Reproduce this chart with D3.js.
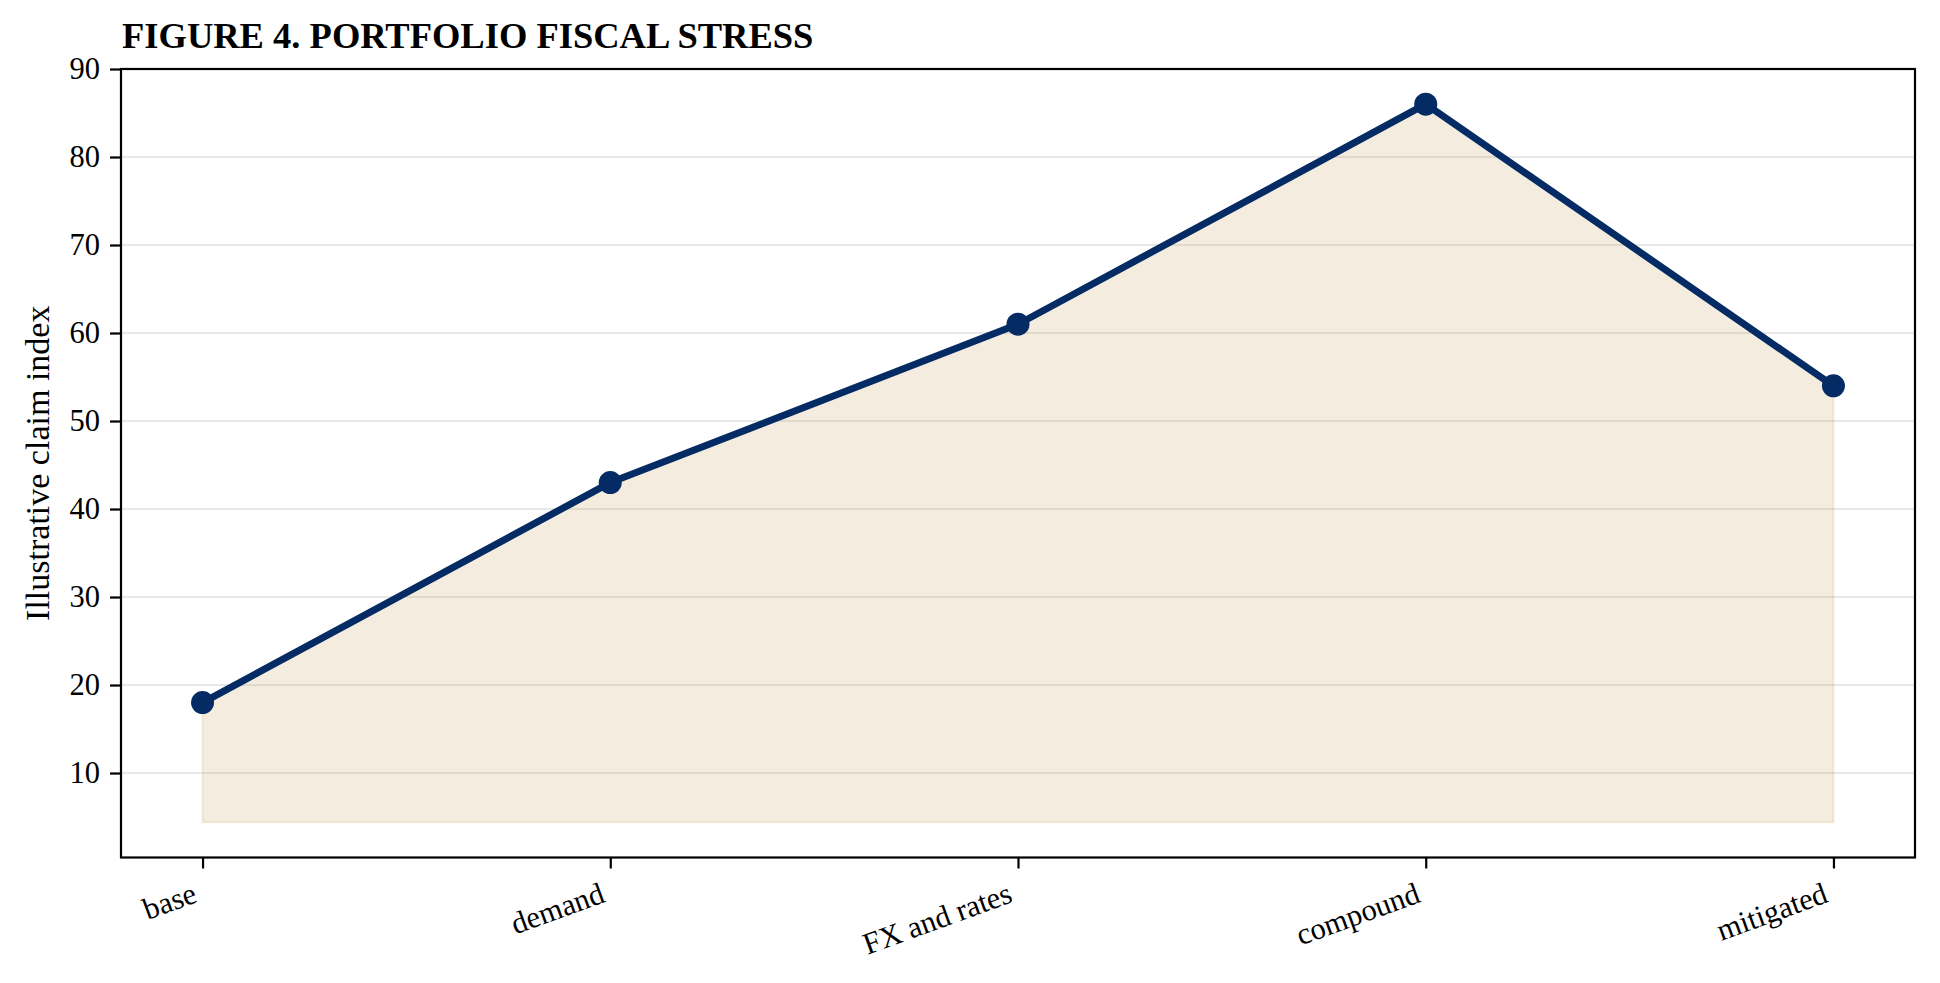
<!DOCTYPE html>
<html lang="en">
<head>
  <meta charset="UTF-8">
  <title>Portfolio fiscal stress</title>
  <style>
    body { margin: 0; background: #fff; }
    text { font-family: "Liberation Serif", "Times New Roman", serif; fill: #000; }
  </style>
</head>
<body>
  <div class="canvas"></div>

  <script src="https://cdnjs.cloudflare.com/ajax/libs/d3/7.8.5/d3.min.js"></script>
  <script>
    // data
    const scenarios = ['base', 'demand', 'FX and rates', 'compound', 'mitigated'];
    const claimIndex = [18, 43, 61, 86, 54];
    const yTicks = [10, 20, 30, 40, 50, 60, 70, 80, 90];
    const yDomain = [0.4, 90];
    const fillFloor = 4.4;

    const width = 1940, height = 983;
    const margin = { top: 69, right: 25, bottom: 125.5, left: 121 };

    const svg = d3.select('.canvas').append('svg')
      .attr('width', width)
      .attr('height', height);

    const x = d3.scalePoint()
      .domain(scenarios)
      .range([margin.left, width - margin.right])
      .padding(0.2);

    const y = d3.scaleLinear()
      .domain(yDomain)
      .range([height - margin.bottom, margin.top]);

    const rows = scenarios.map((s, i) => ({ s, v: claimIndex[i] }));

    // grid
    svg.append('g')
      .selectAll('line')
      .data(yTicks)
      .join('line')
      .attr('x1', margin.left)
      .attr('x2', width - margin.right)
      .attr('y1', d => y(d))
      .attr('y2', d => y(d))
      .attr('stroke', '#e8e8e8')
      .attr('stroke-width', 2.2);

    // shaded area under the line
    const area = d3.area()
      .x(d => x(d.s))
      .y0(y(fillFloor))
      .y1(d => y(d.v));

    svg.append('path')
      .datum(rows)
      .attr('d', area)
      .attr('fill', '#c9a65e')
      .attr('fill-opacity', 0.2)
      .attr('stroke', '#c9a65e')
      .attr('stroke-opacity', 0.2)
      .attr('stroke-width', 2);

    // line + markers
    const line = d3.line()
      .x(d => x(d.s))
      .y(d => y(d.v));

    svg.append('path')
      .datum(rows)
      .attr('d', line)
      .attr('fill', 'none')
      .attr('stroke', '#052b64')
      .attr('stroke-width', 7)
      .attr('stroke-linejoin', 'round');

    svg.append('g')
      .selectAll('circle')
      .data(rows)
      .join('circle')
      .attr('cx', d => x(d.s))
      .attr('cy', d => y(d.v))
      .attr('r', 11.5)
      .attr('fill', '#052b64');

    // y axis
    const yAxis = svg.append('g')
      .attr('transform', `translate(${margin.left},0)`)
      .call(d3.axisLeft(y).tickValues(yTicks).tickSize(11).tickPadding(10));

    yAxis.select('.domain').remove();
    yAxis.selectAll('.tick line').attr('stroke', '#000').attr('stroke-width', 2.2);
    yAxis.selectAll('.tick text')
      .style('font-family', '"Liberation Serif", serif')
      .style('font-size', '30.5px')
      .attr('fill', '#000');

    // x axis
    const xAxis = svg.append('g')
      .attr('transform', `translate(0,${height - margin.bottom})`)
      .call(d3.axisBottom(x).tickSize(11).tickFormat(''));

    xAxis.select('.domain').remove();
    xAxis.selectAll('.tick line').attr('stroke', '#000').attr('stroke-width', 2.2);

    svg.append('g')
      .selectAll('text')
      .data(scenarios)
      .join('text')
      .attr('transform', d => `translate(${x(d) - 4},${height - margin.bottom + 44}) rotate(-20)`)
      .attr('text-anchor', 'end')
      .style('font-size', '30.5px')
      .text(d => d);

    // frame
    svg.append('rect')
      .attr('x', margin.left)
      .attr('y', margin.top)
      .attr('width', width - margin.left - margin.right)
      .attr('height', height - margin.top - margin.bottom)
      .attr('fill', 'none')
      .attr('stroke', '#000')
      .attr('stroke-width', 2.2);

    // labels
    svg.append('text')
      .attr('transform', `translate(37,${(margin.top + height - margin.bottom) / 2}) rotate(-90)`)
      .attr('text-anchor', 'middle')
      .attr('dy', '0.35em')
      .style('font-size', '34px')
      .text('Illustrative claim index');

    svg.append('text')
      .attr('x', 122)
      .attr('y', 48)
      .style('font-size', '36.5px')
      .style('font-weight', 'bold')
      .text('FIGURE 4. PORTFOLIO FISCAL STRESS');
  </script>
</body>
</html>
